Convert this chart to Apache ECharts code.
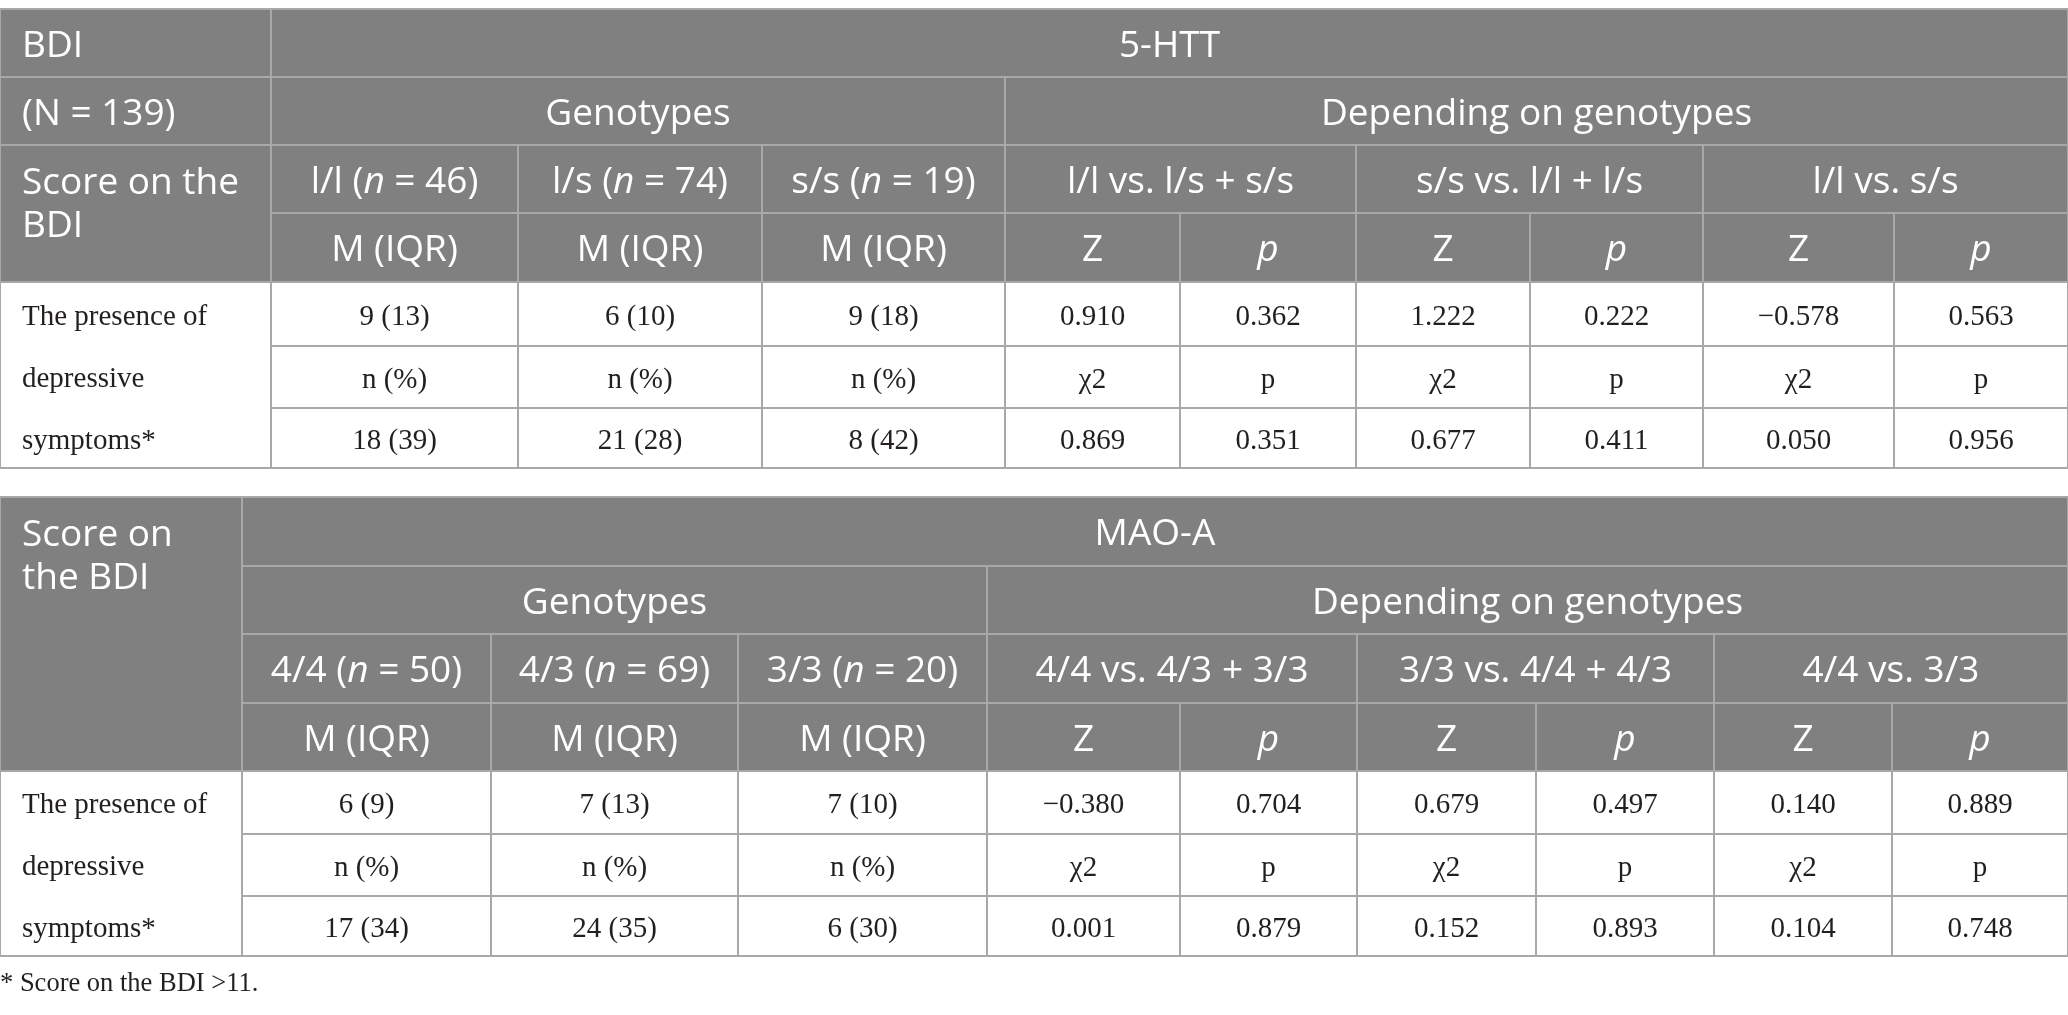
<!DOCTYPE html>
<html>
<head>
<meta charset="utf-8">
<script src="https://cdn.jsdelivr.net/npm/echarts@6/dist/echarts.min.js"></script>
<style>
html, body { margin: 0; padding: 0; background: #fff; }
#main { width: 2068px; height: 1015px; }
</style>
</head>
<body>
<div id="main"></div>
<script>
// ---- table 1: 5-HTT ----
var gene1 = '5-HTT';
var stubTop1 = ['BDI', '(N = 139)', 'Score on the\nBDI'];
var genotypes1 = ['l/l', 'l/s', 's/s'];
var counts1 = [46, 74, 19];
var comparisons1 = ['l/l vs. l/s + s/s', 's/s vs. l/l + l/s', 'l/l vs. s/s'];
var median1 = [9, 6, 9];
var iqr1 = [13, 10, 18];
var z1 = [0.910, 1.222, -0.578];
var pz1 = [0.362, 0.222, 0.563];
var nDep1 = [18, 21, 8];
var pct1 = [39, 28, 42];
var chi1 = [0.869, 0.677, 0.050];
var pchi1 = [0.351, 0.411, 0.956];

// ---- table 2: MAO-A ----
var gene2 = 'MAO-A';
var stubTop2 = ['Score on\nthe BDI'];
var genotypes2 = ['4/4', '4/3', '3/3'];
var counts2 = [50, 69, 20];
var comparisons2 = ['4/4 vs. 4/3 + 3/3', '3/3 vs. 4/4 + 4/3', '4/4 vs. 3/3'];
var median2 = [6, 7, 7];
var iqr2 = [9, 13, 10];
var z2 = [-0.380, 0.679, 0.140];
var pz2 = [0.704, 0.497, 0.889];
var nDep2 = [17, 24, 6];
var pct2 = [34, 35, 30];
var chi2 = [0.001, 0.152, 0.104];
var pchi2 = [0.879, 0.893, 0.748];

// shared labels
var groupLabels = ['Genotypes', 'Depending on genotypes'];
var statLabels = ['M (IQR)', 'Z', '{i|p}'];
var countLabels = ['n (%)', 'χ2', 'p'];
var stubBody = 'The presence of\ndepressive\nsymptoms*';
var footnote = '* Score on the BDI >11.';

// ---- layout (pixel edges of columns / rows) ----
var cols1 = [0, 271, 518, 762, 1005, 1180, 1356, 1530, 1703, 1894, 2068];
var rows1 = [9, 77, 145, 213, 282, 346, 408, 468];
var cols2 = [0, 242, 491, 738, 987, 1180, 1357, 1536, 1714, 1892, 2068];
var rows2 = [497, 566, 634, 703, 771, 834, 896, 956];

var headFill = '#7f807f';
var lineColor = '#a8a8a8';
var headFont = 'Open Sans';
var bodyFont = 'Liberation Serif';
var headSize = 37;
var bodySize = 29;

function fmt(v) {
    return (v < 0 ? '\u2212' : '') + Math.abs(v).toFixed(3);
}

var cells = [];

function cell(cols, rows, c0, c1, r0, r1, text, opt) {
    opt = opt || {};
    cells.push({
        value: [cols[c0], cols[c1], rows[r0], rows[r1]],
        text: text,
        head: !!opt.head,
        left: !!opt.left,
        top: !!opt.top,
        spread: opt.spread || 0
    });
}

function buildTable(cols, rows, gene, stubTop, genotypes, counts, comparisons,
                    median, iqr, z, pz, nDep, pct, chi, pchi) {
    var h = { head: true };
    // stub headers
    if (stubTop.length === 3) {
        cell(cols, rows, 0, 1, 0, 1, stubTop[0], { head: true, left: true });
        cell(cols, rows, 0, 1, 1, 2, stubTop[1], { head: true, left: true });
        cell(cols, rows, 0, 1, 2, 4, stubTop[2], { head: true, left: true, top: true });
    } else {
        cell(cols, rows, 0, 1, 0, 4, stubTop[0], { head: true, left: true, top: true });
    }
    cell(cols, rows, 1, 10, 0, 1, gene, h);
    cell(cols, rows, 1, 4, 1, 2, groupLabels[0], h);
    cell(cols, rows, 4, 10, 1, 2, groupLabels[1], h);
    for (var i = 0; i < 3; i++) {
        cell(cols, rows, 1 + i, 2 + i, 2, 3, genotypes[i] + ' ({i|n} = ' + counts[i] + ')', h);
        cell(cols, rows, 4 + 2 * i, 6 + 2 * i, 2, 3, comparisons[i], h);
        cell(cols, rows, 1 + i, 2 + i, 3, 4, statLabels[0], h);
        cell(cols, rows, 4 + 2 * i, 5 + 2 * i, 3, 4, statLabels[1], h);
        cell(cols, rows, 5 + 2 * i, 6 + 2 * i, 3, 4, statLabels[2], h);
    }
    // body
    cell(cols, rows, 0, 1, 4, 7, stubBody, { left: true, spread: 3 });
    for (var j = 0; j < 3; j++) {
        cell(cols, rows, 1 + j, 2 + j, 4, 5, median[j] + ' (' + iqr[j] + ')');
        cell(cols, rows, 1 + j, 2 + j, 5, 6, countLabels[0]);
        cell(cols, rows, 1 + j, 2 + j, 6, 7, nDep[j] + ' (' + pct[j] + ')');
        cell(cols, rows, 4 + 2 * j, 5 + 2 * j, 4, 5, fmt(z[j]));
        cell(cols, rows, 5 + 2 * j, 6 + 2 * j, 4, 5, fmt(pz[j]));
        cell(cols, rows, 4 + 2 * j, 5 + 2 * j, 5, 6, countLabels[1]);
        cell(cols, rows, 5 + 2 * j, 6 + 2 * j, 5, 6, countLabels[2]);
        cell(cols, rows, 4 + 2 * j, 5 + 2 * j, 6, 7, fmt(chi[j]));
        cell(cols, rows, 5 + 2 * j, 6 + 2 * j, 6, 7, fmt(pchi[j]));
    }
}

buildTable(cols1, rows1, gene1, stubTop1, genotypes1, counts1, comparisons1,
           median1, iqr1, z1, pz1, nDep1, pct1, chi1, pchi1);
buildTable(cols2, rows2, gene2, stubTop2, genotypes2, counts2, comparisons2,
           median2, iqr2, z2, pz2, nDep2, pct2, chi2, pchi2);

function renderItem(params, api) {
    var c = cells[params.dataIndex];
    var p0 = api.coord([api.value(0), api.value(2)]);
    var p1 = api.coord([api.value(1), api.value(3)]);
    var w = p1[0] - p0[0], hgt = p1[1] - p0[1];
    var family = c.head ? headFont : bodyFont;
    var size = c.head ? headSize : bodySize;
    var color = c.head ? '#ffffff' : '#231f20';
    var tx = c.left ? p0[0] + 22 : p0[0] + w / 2;
    // text sits a little below the geometric centre in the original
    var ty = p0[1] + hgt / 2 + 3, va = 'middle', lh = size * 1.2;
    if (c.top) {
        ty = p0[1] + 17; va = 'top'; lh = 43;
    } else if (c.spread) {
        ty = p0[1] + 4; va = 'top'; lh = hgt / c.spread;
    }
    return {
        type: 'group',
        children: [{
            type: 'rect',
            shape: { x: p0[0], y: p0[1], width: w, height: hgt },
            style: { fill: c.head ? headFill : '#ffffff', stroke: lineColor, lineWidth: 2 }
        }, {
            type: 'text',
            x: tx,
            y: ty,
            style: {
                text: c.text,
                fill: color,
                fontFamily: family,
                fontSize: size,
                lineHeight: lh,
                align: c.left ? 'left' : 'center',
                verticalAlign: va,
                rich: {
                    i: { fontStyle: 'italic', fontFamily: family, fontSize: size, fill: color }
                }
            }
        }]
    };
}

var myChart = echarts.init(document.getElementById('main'));
var option = {
    animation: false,
    title: {
        text: footnote,
        left: 0,
        top: 971,
        padding: 0,
        textStyle: { fontFamily: bodyFont, fontSize: 26.5, fontWeight: 'normal', color: '#231f20' }
    },
    grid: { left: 0, right: 0, top: 0, bottom: 0 },
    xAxis: { type: 'value', min: 0, max: 2068, show: false },
    yAxis: { type: 'value', min: 0, max: 1015, inverse: true, show: false },
    series: [{
        type: 'custom',
        silent: true,
        clip: false,
        renderItem: renderItem,
        data: cells.map(function (c) { return c.value; })
    }]
};
myChart.setOption(option);
</script>
</body>
</html>
